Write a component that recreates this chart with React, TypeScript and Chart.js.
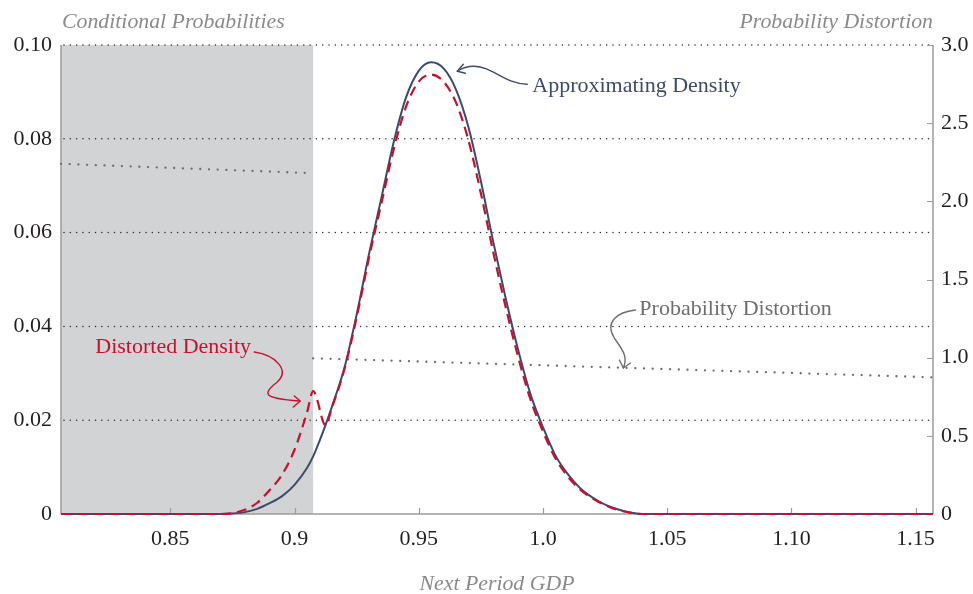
import React, { useEffect, useRef } from 'react';
import { Chart, registerables } from 'chart.js';

Chart.register(...registerables);

// ---------- data ----------
const xMin = 0.806;
const xMax = 1.157;
const xTickValues = [0.85, 0.9, 0.95, 1.0, 1.05, 1.1, 1.15];
const xTickLabels = ['0.85', '0.9', '0.95', '1.0', '1.05', '1.10', '1.15'];
const leftTickValues = [0, 0.02, 0.04, 0.06, 0.08, 0.1];
const leftTickLabels = ['0', '0.02', '0.04', '0.06', '0.08', '0.10'];
const rightTickValues = [0, 0.5, 1.0, 1.5, 2.0, 2.5, 3.0];
const rightTickLabels = ['0', '0.5', '1.0', '1.5', '2.0', '2.5', '3.0'];
const shadeUpper = 0.9075;

const approxX = [0.806, 0.87, 0.875, 0.88, 0.885, 0.89, 0.895, 0.9, 0.905, 0.9075, 0.91, 0.9125, 0.915, 0.92, 0.925, 0.93, 0.935, 0.94, 0.945, 0.95, 0.955, 0.96, 0.965, 0.97, 0.975, 0.98, 0.985, 0.99, 0.995, 1.0, 1.005, 1.01, 1.015, 1.02, 1.025, 1.03, 1.035, 1.04, 1.157];
const approxY = [0, 0, 0.0001, 0.0004, 0.0011, 0.0023, 0.0038, 0.0062, 0.0098, 0.0123, 0.0155, 0.019, 0.0228, 0.031, 0.0425, 0.0555, 0.0675, 0.0795, 0.089, 0.0945, 0.0963, 0.095, 0.0905, 0.0825, 0.071, 0.058, 0.046, 0.035, 0.0255, 0.0185, 0.0125, 0.0085, 0.0055, 0.0035, 0.002, 0.001, 0.0003, 0, 0];

const distortedX = [0.806, 0.87, 0.875, 0.88, 0.885, 0.89, 0.895, 0.9, 0.905, 0.9075, 0.9125, 0.915, 0.92, 0.925, 0.93, 0.935, 0.94, 0.945, 0.95, 0.955, 0.96, 0.965, 0.97, 0.975, 0.98, 0.985, 0.99, 0.995, 1.0, 1.005, 1.01, 1.015, 1.02, 1.025, 1.03, 1.035, 1.04, 1.157];
const distortedY = [0, 0, 0.0002, 0.0009, 0.0024, 0.0051, 0.0084, 0.0137, 0.0216, 0.0262, 0.0189, 0.0226, 0.0307, 0.0419, 0.0547, 0.0663, 0.0779, 0.087, 0.0922, 0.0937, 0.0922, 0.0877, 0.0797, 0.0684, 0.0558, 0.0441, 0.0335, 0.0244, 0.0176, 0.0119, 0.008, 0.0052, 0.0033, 0.0019, 0.0009, 0.0003, 0, 0];

const distortionLowX = [0.806, 0.9075];
const distortionLowY = [2.24, 2.18];
const distortionHighX = [0.9075, 1.0, 1.08, 1.157];
const distortionHighY = [0.996, 0.951, 0.912, 0.874];

// ---------- text ----------
const leftTitle = 'Conditional Probabilities';
const rightTitle = 'Probability Distortion';
const xTitle = 'Next Period GDP';
const approxLabel = 'Approximating Density';
const distortedLabel = 'Distorted Density';
const distortionLabel = 'Probability Distortion';

// ---------- styles ----------
const SERIF = '"Liberation Serif", "DejaVu Serif", serif';
const NAVY = '#3d4b6a';
const RED = '#c8102e';
const GRAY_DOT = '#6b6b6b';
const AXIS = '#9c9c9c';

const pts = (xs: number[], ys: number[]) => xs.map((x, i) => ({ x, y: ys[i] }));

const decor = {
  id: 'decor',
  beforeDraw(chart: any) {
    const { ctx, scales } = chart;
    const sx = scales.x, sy = scales.y;
    ctx.save();
    const x0 = sx.getPixelForValue(xMin);
    const x1 = sx.getPixelForValue(shadeUpper);
    const yt = sy.getPixelForValue(0.1);
    const yb = sy.getPixelForValue(0);
    ctx.fillStyle = '#d1d3d4';
    ctx.fillRect(x0, yt, x1 - x0, yb - yt);
    ctx.restore();
  },
  beforeDatasetsDraw(chart: any) {
    const { ctx, chartArea: a, scales } = chart;
    const sx = scales.x, sy = scales.y, sy2 = scales.y2;
    ctx.save();
    ctx.strokeStyle = '#2b2b2b';
    ctx.lineWidth = 1.5;
    ctx.lineCap = 'round';
    ctx.setLineDash([0.01, 6.3]);
    leftTickValues.forEach((v) => {
      if (v === 0) return;
      const py = sy.getPixelForValue(v);
      ctx.beginPath();
      ctx.moveTo(a.left + 3, py);
      ctx.lineTo(a.right - 3, py);
      ctx.stroke();
    });
    ctx.setLineDash([]);
    ctx.lineCap = 'butt';
    ctx.strokeStyle = AXIS;
    ctx.lineWidth = 1.5;
    ctx.beginPath();
    ctx.moveTo(a.left, a.top);
    ctx.lineTo(a.left, a.bottom);
    ctx.moveTo(a.right, a.top);
    ctx.lineTo(a.right, a.bottom);
    ctx.moveTo(a.left, a.bottom);
    ctx.lineTo(a.right, a.bottom);
    ctx.stroke();
    ctx.lineWidth = 1.2;
    ctx.beginPath();
    xTickValues.forEach((v) => {
      const px = Math.round(sx.getPixelForValue(v)) + 0.5;
      ctx.moveTo(px, a.bottom);
      ctx.lineTo(px, a.bottom - 6);
    });
    rightTickValues.forEach((v) => {
      const py = Math.round(sy2.getPixelForValue(v)) + 0.5;
      ctx.moveTo(a.right, py);
      ctx.lineTo(a.right - 6, py);
    });
    ctx.stroke();
    ctx.restore();
  },
  afterDraw(chart: any) {
    const { ctx, chartArea: a, scales } = chart;
    const sx = scales.x, sy = scales.y;
    ctx.save();
    ctx.fillStyle = '#8a8a8a';
    ctx.font = `italic 21.8px ${SERIF}`;
    ctx.textBaseline = 'middle';
    ctx.textAlign = 'left';
    ctx.fillText(leftTitle, a.left + 1, 22);
    ctx.textAlign = 'right';
    ctx.fillText(rightTitle, a.right, 22);
    ctx.textAlign = 'center';
    ctx.fillText(xTitle, (a.left + a.right) / 2, 584);

    ctx.font = `22px ${SERIF}`;
    ctx.textAlign = 'left';
    ctx.lineWidth = 1.4;
    ctx.lineCap = 'round';
    ctx.lineJoin = 'round';

    {
      const ax = sx.getPixelForValue(0.9957), ay = sy.getPixelForValue(0.0912);
      ctx.fillStyle = NAVY;
      ctx.strokeStyle = NAVY;
      ctx.fillText(approxLabel, ax, ay);
      ctx.beginPath();
      ctx.moveTo(ax - 5, ay - 2);
      ctx.bezierCurveTo(ax - 27, ay - 2, ax - 40, ay - 20, ax - 58, ay - 20);
      ctx.quadraticCurveTo(ax - 68, ay - 20, ax - 75, ay - 15);
      ctx.stroke();
      ctx.beginPath();
      ctx.moveTo(ax - 69, ay - 22);
      ctx.lineTo(ax - 75, ay - 15);
      ctx.lineTo(ax - 67, ay - 13);
      ctx.stroke();
    }
    {
      const ax = sx.getPixelForValue(0.8198), ay = sy.getPixelForValue(0.0356);
      ctx.fillStyle = RED;
      ctx.strokeStyle = RED;
      ctx.fillText(distortedLabel, ax, ay);
      ctx.beginPath();
      ctx.moveTo(ax + 159, ay + 5);
      ctx.bezierCurveTo(ax + 180, ay + 8, ax + 195, ay + 23, ax + 182, ay + 35);
      ctx.bezierCurveTo(ax + 167, ay + 47, ax + 167, ay + 51, ax + 204, ay + 54);
      ctx.stroke();
      ctx.beginPath();
      ctx.moveTo(ax + 199, ay + 49);
      ctx.lineTo(ax + 205, ay + 54);
      ctx.lineTo(ax + 198, ay + 60);
      ctx.stroke();
    }
    {
      const ax = sx.getPixelForValue(1.0388), ay = sy.getPixelForValue(0.0437);
      ctx.fillStyle = '#6e6e6e';
      ctx.strokeStyle = '#6e6e6e';
      ctx.fillText(distortionLabel, ax, ay);
      ctx.beginPath();
      ctx.moveTo(ax - 4, ay + 1);
      ctx.bezierCurveTo(ax - 22, ay + 3, ax - 35, ay + 13, ax - 25, ay + 29);
      ctx.bezierCurveTo(ax - 17, ay + 41, ax - 11, ay + 47, ax - 16, ay + 59);
      ctx.stroke();
      ctx.beginPath();
      ctx.moveTo(ax - 20, ay + 51);
      ctx.lineTo(ax - 16, ay + 59);
      ctx.lineTo(ax - 9, ay + 54);
      ctx.stroke();
    }
    ctx.restore();
  },
};

export default function App() {
  const ref = useRef<HTMLCanvasElement>(null);
  useEffect(() => {
    if (!ref.current) return;
    // Chart.js paints the first dataset last (on top): red, then navy, then dots.
    const chart = new Chart(ref.current, {
      type: 'line',
      data: {
        datasets: [
          {
            label: 'Distorted Density',
            data: pts(distortedX, distortedY),
            yAxisID: 'y',
            borderColor: RED,
            borderWidth: 2.2,
            borderDash: [10, 6],
            cubicInterpolationMode: 'monotone',
            pointRadius: 0,
            fill: false,
            clip: false,
          },
          {
            label: 'Approximating Density',
            data: pts(approxX, approxY),
            yAxisID: 'y',
            borderColor: NAVY,
            borderWidth: 2,
            cubicInterpolationMode: 'monotone',
            pointRadius: 0,
            fill: false,
            clip: false,
          },
          {
            label: 'Probability Distortion (conditional)',
            data: pts(distortionLowX, distortionLowY),
            yAxisID: 'y2',
            borderColor: GRAY_DOT,
            borderWidth: 2.3,
            borderDash: [0.01, 8.7],
            borderCapStyle: 'round',
            pointRadius: 0,
            fill: false,
            clip: false,
          },
          {
            label: 'Probability Distortion',
            data: pts(distortionHighX, distortionHighY),
            yAxisID: 'y2',
            borderColor: GRAY_DOT,
            borderWidth: 2.3,
            borderDash: [0.01, 8.7],
            borderCapStyle: 'round',
            pointRadius: 0,
            fill: false,
            clip: false,
          },
        ],
      } as any,
      options: {
        animation: false,
        responsive: true,
        maintainAspectRatio: false,
        layout: { padding: { top: 45, left: 0, right: 0, bottom: 0 } },
        plugins: { legend: { display: false }, tooltip: { enabled: false } },
        events: [],
        scales: {
          x: {
            type: 'linear',
            min: xMin,
            max: xMax,
            grid: { display: false, drawTicks: false },
            border: { display: false },
            afterBuildTicks: (s: any) => {
              s.ticks = xTickValues.map((v) => ({ value: v }));
            },
            afterFit: (s: any) => {
              s.height = 80;
            },
            ticks: {
              padding: 12,
              maxRotation: 0,
              autoSkip: false,
              color: '#231f20',
              font: { family: SERIF, size: 22 },
              callback: (_v: any, i: number) => xTickLabels[i],
            },
          },
          y: {
            type: 'linear',
            position: 'left',
            min: 0,
            max: 0.1,
            grid: { display: false, drawTicks: false },
            border: { display: false },
            afterBuildTicks: (s: any) => {
              s.ticks = leftTickValues.map((v) => ({ value: v }));
            },
            afterFit: (s: any) => {
              s.width = 61;
            },
            ticks: {
              padding: 9,
              autoSkip: false,
              color: '#231f20',
              font: { family: SERIF, size: 22 },
              callback: (_v: any, i: number) => leftTickLabels[i],
            },
          },
          y2: {
            type: 'linear',
            position: 'right',
            min: 0,
            max: 3,
            grid: { display: false, drawTicks: false },
            border: { display: false },
            afterBuildTicks: (s: any) => {
              s.ticks = rightTickValues.map((v) => ({ value: v }));
            },
            afterFit: (s: any) => {
              s.width = 40;
            },
            ticks: {
              padding: 8,
              autoSkip: false,
              color: '#231f20',
              font: { family: SERIF, size: 22 },
              callback: (_v: any, i: number) => rightTickLabels[i],
            },
          },
        },
      } as any,
      plugins: [decor],
    });
    return () => chart.destroy();
  }, []);
  return (
    <div style={{ position: 'fixed', left: 0, top: 0, width: 973, height: 594, background: '#fff' }}>
      <canvas ref={ref} />
    </div>
  );
}
